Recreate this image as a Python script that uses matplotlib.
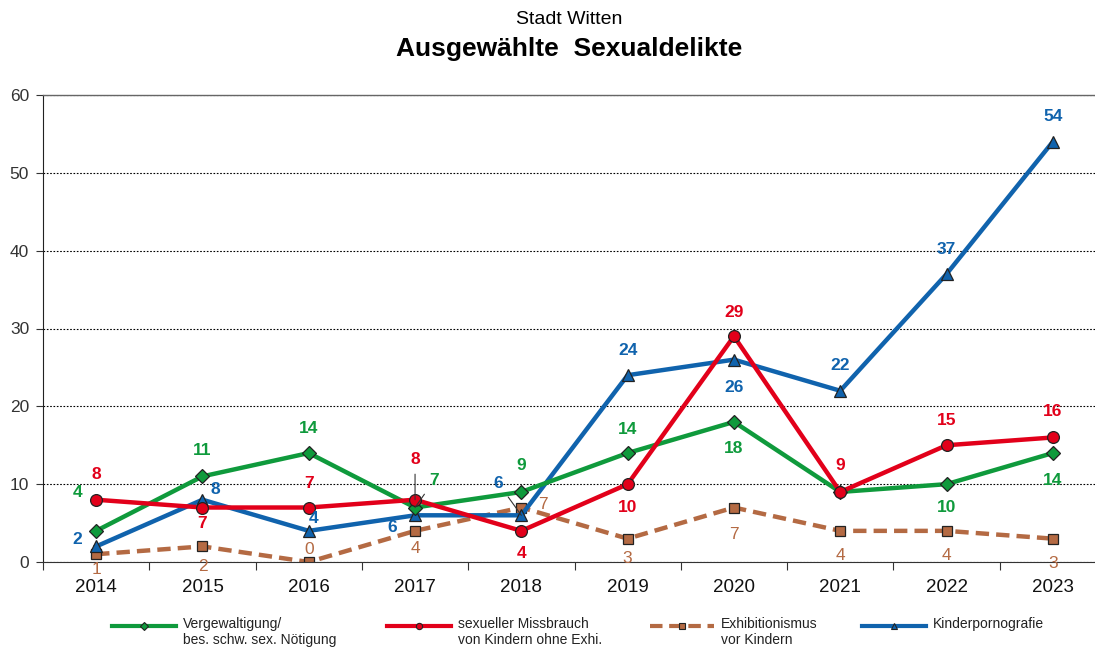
import numpy as np
import matplotlib
matplotlib.use('agg')
import matplotlib.pyplot as plt
from matplotlib.lines import Line2D

plt.rcParams['font.family'] = ['Liberation Sans', 'DejaVu Sans']

years = ['2014', '2015', '2016', '2017', '2018', '2019', '2020', '2021', '2022', '2023']
vergewaltigung = [4, 11, 14, 7, 9, 14, 18, 9, 10, 14]
missbrauch = [8, 7, 7, 8, 4, 10, 29, 9, 15, 16]
exhibitionismus = [1, 2, 0, 4, 7, 3, 7, 4, 4, 3]
kinderporno = [2, 8, 4, 6, 6, 24, 26, 22, 37, 54]

names = ['Vergewaltigung/\nbes. schw. sex. Nötigung',
         'sexueller Missbrauch\nvon Kindern ohne Exhi.',
         'Exhibitionismus\nvor Kindern',
         'Kinderpornografie']

GREEN = '#0f9a3c'
RED = '#e2001a'
BROWN = '#b46a43'
BLUE = '#1063ad'

# label offsets in pixels (dx, dy); None = no label; third item = leader line
off_green = [(-19, 38), (0, 26), (0, 25), (19, 27, True), (0, 26), (0, 24), (0, -27), None, (0, -23), (0, -27)]
off_red = [(0, 25), (0, -16), (0, 24), (0, 40, True), (0, -23), (0, -23), (0, 24), (0, 26), (0, 25), (0, 26)]
off_brown = [(0, -15), (0, -20), (0, 13), (0, -18), (22, 3), (0, -20), (0, -27), (0, -25), (0, -25), (0, -25)]
off_blue = [(-19, 7), (13, 10), (5, 12), (-23, -12), (-23, 32, True), (0, 25), (0, -28), (0, 25), (0, 25), (0, 25)]

W, H = 1095, 650
fig = plt.figure(figsize=(W / 100, H / 100), dpi=100)
# the category axis runs a little past the right border of the figure
ax = fig.add_axes([43 / W, 1 - 562 / H, 1063 / W, 467 / H])

x = np.arange(len(years))

series = [
    (vergewaltigung, GREEN, 'D', 7, '-', off_green, 'bold'),
    (missbrauch, RED, 'o', 8.5, '-', off_red, 'bold'),
    (exhibitionismus, BROWN, 's', 6.5, (0, (3, 1.6)), off_brown, 'normal'),
    (kinderporno, BLUE, '^', 8.5, '-', off_blue, 'bold'),
]

zorders = {0: 4, 1: 5, 2: 2, 3: 3}
for i, (vals, col, mk, ms, ls, offs, wt) in enumerate(series):
    ax.plot(x, vals, color=col, lw=3.2, ls=ls, marker=mk, markersize=ms,
            markerfacecolor=col, markeredgecolor='#222222', markeredgewidth=0.9,
            zorder=zorders[i])
    for j, v in enumerate(vals):
        o = offs[j]
        if o is None:
            continue
        kw = {}
        if len(o) > 2:
            kw['arrowprops'] = dict(arrowstyle='-', color='#333333', lw=0.8,
                                    shrinkA=3, shrinkB=0)
        ax.annotate(str(v), (x[j], v), xytext=(o[0], o[1]),
                    textcoords='offset pixels', ha='center', va='center',
                    color=col, fontsize=12.5, fontweight=wt, zorder=6, **kw)

ax.set_xlim(-0.5, 9.5)
ax.set_ylim(0, 60)
ax.set_yticks(range(0, 61, 10))
ax.yaxis.grid(True, color='black', ls=(0, (1.5, 1.5)), lw=0.8)
ax.set_axisbelow(True)

ax.set_xticks(np.arange(-0.5, 10, 1))
ax.set_xticklabels([])
ax.set_xticks(x, minor=True)
ax.set_xticklabels(years, minor=True, fontsize=13.5, color='#111111')
ax.tick_params(axis='x', which='major', length=6, direction='out', width=0.8,
               color='#333333')
ax.tick_params(axis='x', which='minor', length=0, pad=12)
ax.tick_params(axis='y', length=5, labelsize=12.5, width=0.8, labelcolor='#333333',
               color='#333333', pad=5)

ax.spines['right'].set_visible(False)
ax.spines['top'].set_color('#666666')
ax.spines['top'].set_linewidth(1.0)
ax.spines['left'].set_color('#222222')
ax.spines['bottom'].set_color('#333333')

fig.text(569 / W, 1 - 20 / H, 'Stadt Witten', ha='center', va='center', fontsize=14)
fig.text(569 / W, 1 - 49 / H, 'Ausgewählte  Sexualdelikte', ha='center', va='center',
         fontsize=19, fontweight='bold')

# legend entries: short line with a small marker, text to the right
leg_x = [112, 387, 650, 862]
leg_y = 1 - 626 / H
for k, (vals, col, mk, ms, ls, offs, wt) in enumerate(series):
    x0, x1 = leg_x[k] / W, (leg_x[k] + 64) / W
    fig.add_artist(Line2D([x0, x1], [leg_y, leg_y], transform=fig.transFigure,
                          color=col, lw=3, ls=ls))
    fig.add_artist(Line2D([(x0 + x1) / 2], [leg_y], transform=fig.transFigure,
                          ls='none', marker=mk, markersize=4.5, markerfacecolor=col,
                          markeredgecolor='#222222', markeredgewidth=0.8))
    fig.text(x1 + 7 / W, leg_y + 9 / H, names[k], ha='left', va='top',
             fontsize=10, linespacing=1.2, color='#222222')

fig.savefig('out.png', dpi=100)
